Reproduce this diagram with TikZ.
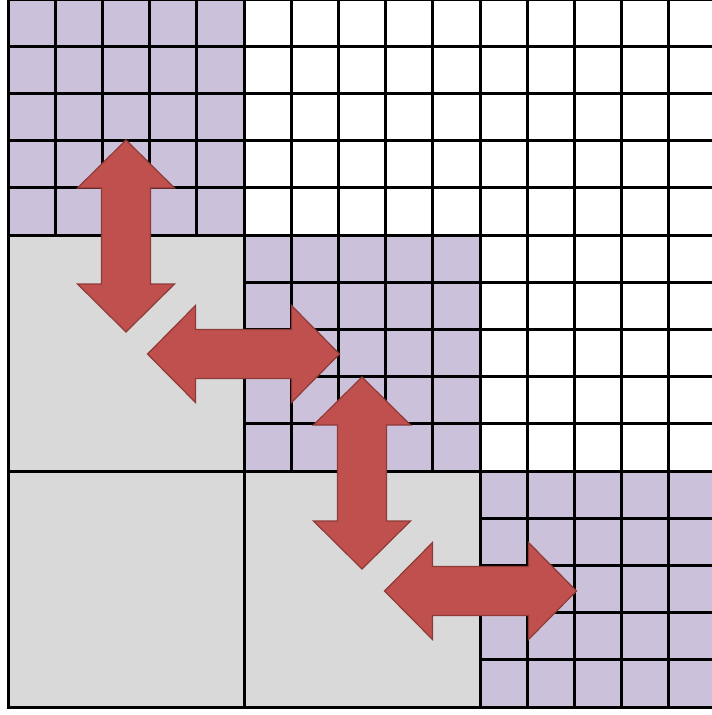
\documentclass[tikz,border=0pt]{standalone}
\definecolor{lav}{HTML}{CCC1DA}
\definecolor{lgray}{HTML}{D9D9D9}
\definecolor{arrred}{HTML}{C0504D}
\definecolor{arredge}{HTML}{8E3B38}
\tikzset{
  gridline/.style={line width=3pt, draw=black, line cap=rect},
  pics/dblarrow/.style={code={
    \filldraw[fill=arrred, draw=arredge, line width=1.2pt, line join=miter]
      (-96,0) -- (-48,-48.5) -- (-48,-24.5) -- (48,-24.5) -- (48,-48.5) -- (96,0)
      -- (48,48.5) -- (48,24.5) -- (-48,24.5) -- (-48,48.5) -- cycle;
  }}
}
\begin{document}
\begin{tikzpicture}[x=1pt,y=-1pt]
\useasboundingbox (0,0) rectangle (712,715);
\clip (0,0) rectangle (712,715);
\fill[white] (0,0) rectangle (712,715);
% block fills
\foreach \i/\j/\c in {0/0/lav,1/1/lav,2/2/lav,1/0/lgray,2/0/lgray,2/1/lgray}
  \fill[\c] ({8+236*\j},{-1+236*\i}) rectangle ++(236,236);
% fine grid inside gridded blocks
\foreach \i/\j in {0/0,0/1,0/2,1/1,1/2,2/2}{
  \foreach \k in {1,...,4}{
    \draw[gridline] ({8+236*\j+47.2*\k},{-1+236*\i}) -- ++(0,236);
    \draw[gridline] ({8+236*\j},{-1+236*\i+47.2*\k}) -- ++(236,0);
  }
}
% block boundaries
\foreach \m in {0,1,2,3}{
  \draw[gridline] ({8+236*\m},-1) -- ++(0,708);
  \draw[gridline] (8,{-1+236*\m}) -- ++(708,0);
}
% arrows
\pic[rotate=90] at (126,236) {dblarrow};
\pic at (243.5,354) {dblarrow};
\pic[rotate=90] at (362,473) {dblarrow};
\pic at (480.5,591) {dblarrow};
\end{tikzpicture}
\end{document}
